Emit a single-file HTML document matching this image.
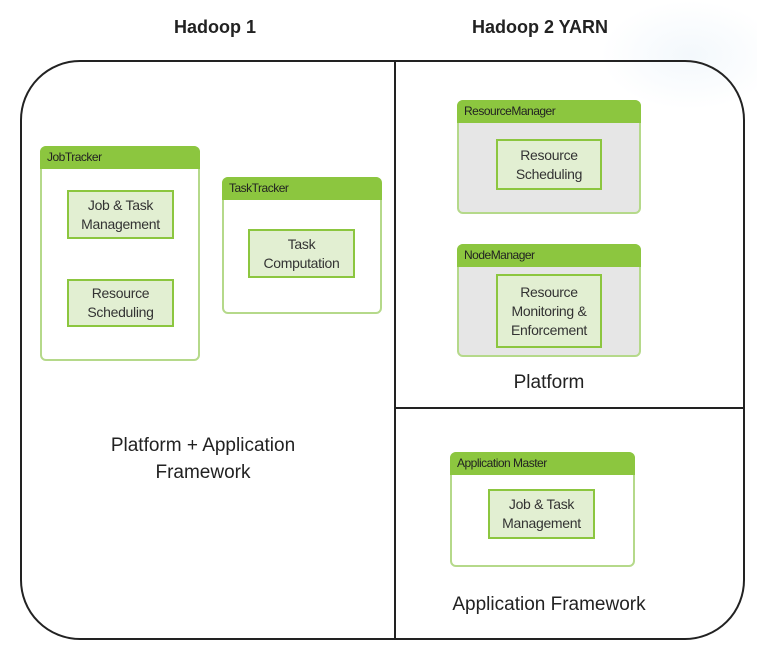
<!DOCTYPE html>
<html><head><style>
body{margin:0;width:757px;height:665px;background:#fff;position:relative;overflow:hidden;font-family:"Liberation Sans",sans-serif;}
.a{position:absolute;box-sizing:border-box;}
.box{border:2px solid #b5d98a;border-radius:6px;background:#fff;}
.hd{position:absolute;left:-2px;top:-2px;right:-2px;height:23px;background:#8cc63f;border-radius:6px 6px 0 0;font-family:"Liberation Sans Narrow","Liberation Sans",sans-serif;font-size:12px;color:#222;padding:4px 0 0 7px;box-sizing:border-box;letter-spacing:-0.5px;}
.in{border:2px solid #8cc63f;background:#e2efd2;font-family:"Liberation Sans Narrow","Liberation Sans",sans-serif;font-size:14px;color:#333;text-align:center;display:flex;align-items:center;justify-content:center;line-height:19px;letter-spacing:-0.3px;}
.t{position:absolute;font-size:19px;color:#222;text-align:center;}
</style></head><body>
<div class="a" style="left:600px;top:0;width:180px;height:110px;background:radial-gradient(ellipse at center,#f3f8fc 0%,#fff 70%);"></div>
<div class="t" style="left:115px;top:17px;width:200px;font-weight:bold;font-size:18px;">Hadoop 1</div>
<div class="t" style="left:440px;top:17px;width:200px;font-weight:bold;font-size:18px;">Hadoop 2 YARN</div>
<div class="a" style="left:20px;top:60px;width:725px;height:580px;border:2px solid #222;border-radius:60px;"></div>
<div class="a" style="left:394px;top:60px;width:2px;height:580px;background:#222;"></div>
<div class="a" style="left:395px;top:407px;width:349px;height:2px;background:#222;"></div>

<div class="a box" style="left:40px;top:146px;width:160px;height:215px;"><div class="hd">JobTracker</div></div>
<div class="a in" style="left:67px;top:190px;width:107px;height:49px;">Job &amp; Task<br>Management</div>
<div class="a in" style="left:67px;top:279px;width:107px;height:48px;">Resource<br>Scheduling</div>

<div class="a box" style="left:222px;top:177px;width:160px;height:137px;"><div class="hd">TaskTracker</div></div>
<div class="a in" style="left:248px;top:229px;width:107px;height:49px;">Task<br>Computation</div>

<div class="a box" style="left:457px;top:100px;width:184px;height:114px;background:#e6e6e6;"><div class="hd">ResourceManager</div></div>
<div class="a in" style="left:496px;top:139px;width:106px;height:51px;">Resource<br>Scheduling</div>

<div class="a box" style="left:457px;top:244px;width:184px;height:113px;background:#e6e6e6;"><div class="hd">NodeManager</div></div>
<div class="a in" style="left:496px;top:274px;width:106px;height:74px;">Resource<br>Monitoring &amp;<br>Enforcement</div>
<div class="t" style="left:449px;top:372px;width:200px;">Platform</div>

<div class="a box" style="left:450px;top:452px;width:185px;height:115px;"><div class="hd">Application Master</div></div>
<div class="a in" style="left:488px;top:489px;width:107px;height:50px;">Job &amp; Task<br>Management</div>
<div class="t" style="left:400px;top:594px;width:298px;">Application Framework</div>

<div class="t" style="left:53px;top:432px;width:300px;line-height:27px;">Platform + Application<br>Framework</div>
</body></html>
